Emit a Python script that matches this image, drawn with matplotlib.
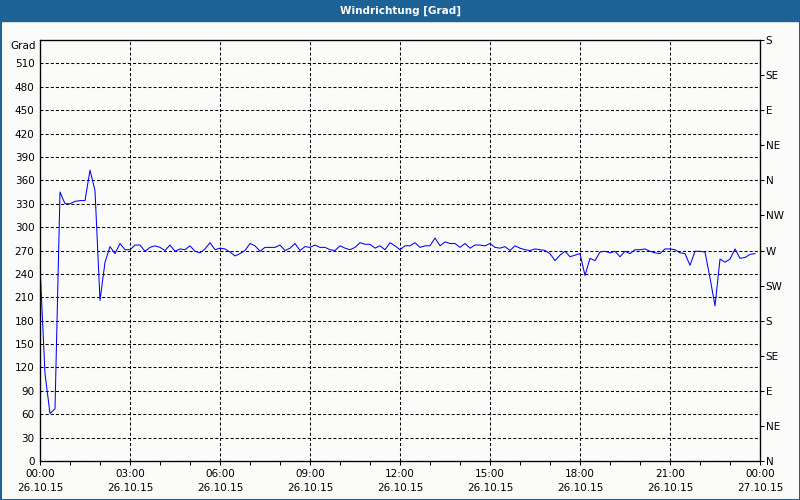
import numpy as np
import pandas as pd
import matplotlib
matplotlib.use("Agg")
import matplotlib.pyplot as plt
import matplotlib.dates as mdates
from matplotlib.patches import Rectangle

# wind direction in degrees, one value every 10 minutes (26.10.15 00:00 .. 23:50)
times = pd.date_range("2015-10-26 00:00", periods=144, freq="10min")
direction = [
    250, 112, 61, 67, 345, 330, 330, 333, 334, 334,
    373, 347, 206, 255, 275, 266, 279, 271, 271,
    277, 277, 269, 274, 276, 274, 270, 277, 269, 272,
    271, 276, 269, 267, 272, 280, 271, 273, 272, 268,
    263, 266, 270, 279, 276, 269, 274, 274, 274, 277,
    270, 273, 279, 270, 275, 274, 277, 274, 274, 271,
    270, 276, 273, 271, 274, 280, 278, 278, 273, 276,
    271, 280, 276, 271, 276, 276, 280, 274, 276, 276,
    286, 276, 281, 279, 279, 274, 279, 273, 277, 277,
    276, 279, 274, 273, 275, 270, 276, 273, 271, 270,
    272, 271, 270, 266, 257, 264, 269, 262, 264, 266,
    238, 260, 257, 268, 269, 267, 269, 262, 269, 266,
    271, 271, 272, 269, 267, 266, 272, 272, 271, 267,
    266, 251, 269, 269, 268, 235, 199, 259, 255, 259,
    272, 260, 261, 265, 266,
]

left_ticks = list(range(0, 540, 30))
compass_ticks = list(range(0, 541, 45))
compass_labels = ["N", "NE", "E", "SE", "S", "SW", "W", "NW",
                  "N", "NE", "E", "SE", "S"]

title = "Windrichtung [Grad]"
bar_col = "#1d6296"
bg_col = "#fbfcfa"

plt.rcParams["font.family"] = "DejaVu Sans"
plt.rcParams["font.size"] = 7.5
plt.rcParams["lines.scale_dashes"] = False

fig = plt.figure(figsize=(8, 5), dpi=100, facecolor=bg_col)
ax = fig.add_axes([40 / 800, 1 - 461 / 500, 720 / 800, 421 / 500])
ax.set_facecolor(bg_col)

ax.plot(times, direction, color="#0000ff", lw=0.75)

start = pd.Timestamp("2015-10-26 00:00")
ax.set_xlim(start, start + pd.Timedelta(hours=24))
ax.set_ylim(0, 540)

ax.xaxis.set_major_locator(mdates.HourLocator(byhour=range(0, 24, 3)))
ax.xaxis.set_minor_locator(mdates.HourLocator())
ax.xaxis.set_major_formatter(mdates.DateFormatter("%H:%M\n%d.%m.%y"))
for lab in ax.get_xticklabels():
    lab.set_linespacing(1.45)
ax.tick_params(axis="x", which="both", direction="out", length=3, width=0.75,
               pad=3)
ax.set_yticks(left_ticks)
ax.tick_params(axis="y", length=0, pad=4)
ax.annotate("Grad", xy=(0, 540), xycoords=ax.get_yaxis_transform(),
            xytext=(-3, -1), textcoords="offset points", ha="right", va="top")

ax.grid(True, which="major", color="black", lw=0.75, linestyle=(0, (2.2, 1.5)))
for sp in ax.spines.values():
    sp.set_linewidth(0.9)

ax2 = ax.twinx()
ax2.set_ylim(0, 540)
ax2.set_yticks(compass_ticks)
ax2.set_yticklabels(compass_labels)
ax2.tick_params(axis="y", direction="out", length=3, width=0.75, pad=1)

fig.patches.append(Rectangle((0, 1 - 21 / 500), 1, 21 / 500,
                             transform=fig.transFigure, color=bar_col, zorder=0))
fig.patches.append(Rectangle((0, 0), 1, 1, transform=fig.transFigure,
                             fill=False, edgecolor=bar_col, lw=2.2))
fig.text(0.5, 1 - 10.5 / 500, title, color="white", ha="center", va="center",
         fontsize=7.5, fontweight="bold")

fig.savefig("out.png", dpi=100, facecolor=bg_col)
